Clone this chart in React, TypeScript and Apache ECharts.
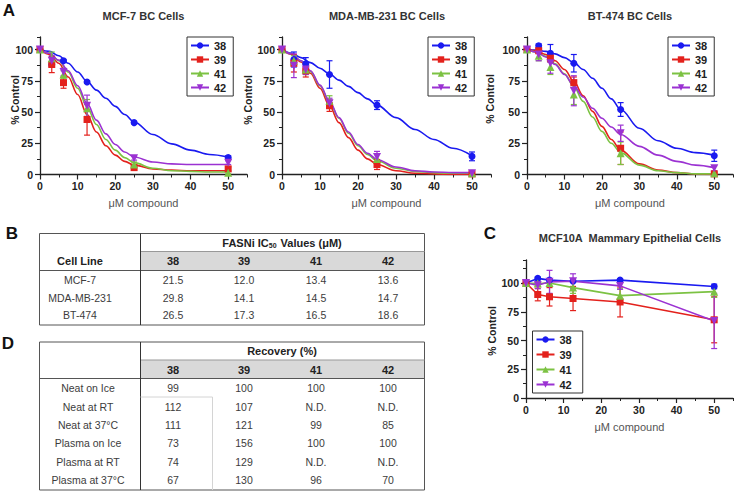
import React, { useEffect, useRef } from 'react';
import * as echarts from 'echarts';

// ---------------- DATA ----------------
const doses = [0, 3.125, 6.25, 12.5, 25, 50];
const compounds = ['38', '39', '41', '42'];
const fitX = [0, 2.5, 5, 7.5, 10, 12.5, 15, 17.5, 20, 22.5, 25, 30, 35, 40, 45, 50];

// MCF-7 fitted curves for 38, 39, 41, 42
const mcf7Fit = [
  [100, 98.5, 95, 89, 82, 74.5, 67.5, 61, 54.5, 48, 42, 32, 24.5, 19.5, 16, 14],
  [100, 96, 89, 78, 64, 48, 34, 23, 15.5, 10.5, 7.5, 4.5, 3.5, 3, 3, 3],
  [100, 97, 91, 82, 69, 54, 40, 28, 19.5, 13.5, 9.5, 5, 3, 2.5, 2, 2],
  [100, 97, 91.5, 83, 71, 57, 43.5, 32.5, 24, 18, 14, 10, 8.5, 8, 8, 8],
];
const mcf7Mean = [
  [100, 88, 91, 74, 41.5, 13.5],
  [100, 88, 73.5, 44, 5.5, 4.5],
  [100, 93, 80, 53, 8, 1.5],
  [100, 91, 82, 55, 13, 9.5],
];
const mcf7Err = [
  [0, 1.5, 1, 1, 1, 1.5],
  [0, 6.5, 4.5, 12.5, 2, 1.5],
  [0, 5, 3, 7, 2, 1],
  [0, 4, 3, 8.5, 1.5, 1.5],
];

// MDA-MB-231
const mdaFit = [
  [100, 97, 93.5, 89.5, 85, 80.5, 75.5, 70.5, 65.5, 60.5, 55.5, 45.5, 36, 28, 21, 15],
  [100, 96, 90, 81, 69, 55, 41.5, 29.5, 19.5, 12.5, 8, 3, 1, 0.5, 0, 0],
  [100, 96.5, 91, 82.5, 71, 58, 45, 33, 23, 16, 11, 5, 2.5, 1.5, 1, 1],
  [100, 96.5, 91, 83, 71.5, 58.5, 45.5, 34, 24, 17, 12, 6, 3, 2, 1.5, 1.5],
];
const mdaMean = [
  [100, 92, 88.5, 80, 55.5, 14.5],
  [100, 89, 83, 55, 8, 0.5],
  [100, 91, 84, 59, 12.5, 1],
  [100, 87, 84, 57, 14, 1],
];
const mdaErr = [
  [0, 6, 5, 11, 3.5, 3.5],
  [0, 7, 5, 4.5, 4, 1],
  [0, 4, 4, 4, 4, 1],
  [0, 9.5, 4, 4, 4.5, 1],
];

// BT-474
const btFit = [
  [100, 99.5, 98.5, 96.5, 93.5, 89.5, 84, 77, 69, 60.5, 52, 37, 27, 21, 17.5, 15.5],
  [100, 99, 96, 91, 84, 74.5, 63, 50.5, 38.5, 28, 19.5, 8.5, 3.5, 1.5, 0.5, 0],
  [100, 98, 94.5, 88.5, 80.5, 70.5, 58.5, 46, 34.5, 25, 17.5, 7.5, 3, 1.5, 0.5, 0.5],
  [100, 98, 94, 88, 80, 71, 62, 53, 45, 38, 32, 22.5, 15.5, 10.5, 7.5, 5.5],
];
const btMean = [
  [100, 103, 97, 89, 52, 15],
  [100, 99, 93, 73.5, 21, 0.5],
  [100, 95, 86, 64, 17, 1],
  [100, 96, 89, 67, 33, 5],
];
const btErr = [
  [0, 1.5, 7, 7, 5.5, 4.5],
  [0, 2, 3, 4.5, 13, 1],
  [0, 4, 6, 8, 9, 1],
  [0, 5, 8, 12, 6.5, 2],
];

// MCF10A
const mcf10aMean = [
  [100, 104, 102.5, 101.5, 102.5, 97],
  [100, 90, 88, 86.5, 83.5, 68],
  [100, 99.5, 100, 96, 89, 92.5],
  [100, 98, 101, 101.5, 97.5, 67],
];
const mcf10aErr = [
  [0, 1, 1, 1, 1, 2],
  [0, 5.5, 8, 10.5, 13, 20],
  [0, 2, 3, 5, 6, 5],
  [0, 3, 10, 6.5, 3, 24],
];

// Tables
const cellLines = ['MCF-7', 'MDA-MB-231', 'BT-474'];
const ic50Rows = [
  ['21.5', '12.0', '13.4', '13.6'],
  ['29.8', '14.1', '14.5', '14.7'],
  ['26.5', '17.3', '16.5', '18.6'],
];
const conditions = ['Neat on Ice', 'Neat at RT', 'Neat at 37°C', 'Plasma on Ice', 'Plasma at RT', 'Plasma at 37°C'];
const recoveryRows = [
  ['99', '100', '100', '100'],
  ['112', '107', 'N.D.', 'N.D.'],
  ['111', '121', '99', '85'],
  ['73', '156', '100', '100'],
  ['74', '129', 'N.D.', 'N.D.'],
  ['67', '130', '96', '70'],
];

// ---------------- STYLE ----------------
const FONT = '"Liberation Sans", Arial, Helvetica, sans-serif';
const COLORS = ['#1a1af0', '#e3211c', '#7cc243', '#9b32d2'];
const SYMBOLS = ['circle', 'rect', 'triangle', 'triangle'];
const ROT = [0, 0, 0, 180];
const SIZES = [7, 7, 8, 8];
const AX = '#222';

const grids = [
  { left: 40, top: 37, width: 207, height: 137.5, ymax: 110 },
  { left: 282, top: 37, width: 209, height: 137.5, ymax: 110 },
  { left: 527, top: 37, width: 206, height: 137.5, ymax: 110 },
  { left: 526, top: 260, width: 207, height: 138, ymax: 120 },
];

function buildXAxes(g: number) {
  const majors = [0, 10, 20, 30, 40, 50];
  return [
    {
      type: 'value', gridIndex: g, position: 'bottom', min: 0, max: 55, interval: 10,
      axisLine: { show: true, onZero: false, lineStyle: { color: AX, width: 1.3 } },
      axisTick: { show: true, inside: false, length: 5, customValues: majors, lineStyle: { color: AX, width: 1.2 } },
      axisLabel: {
        customValues: majors, margin: 6, fontSize: 10.5, fontWeight: 'bold', color: AX, fontFamily: FONT,
        formatter: (v: number) => (v > 50 ? '' : String(v)),
      },
      splitLine: { show: false },
    },
    {
      type: 'value', gridIndex: g, position: 'bottom', min: 0, max: 55, interval: 5,
      axisLine: { show: false, onZero: false },
      axisTick: { show: true, inside: false, length: 3, lineStyle: { color: AX, width: 1 } },
      axisLabel: { show: false },
      splitLine: { show: false },
    },
  ];
}

function buildYAxes(g: number, ymax: number) {
  const majors = [0, 25, 50, 75, 100];
  return [
    {
      type: 'value', gridIndex: g, position: 'left', min: 0, max: ymax, interval: 25,
      axisLine: { show: true, onZero: false, lineStyle: { color: AX, width: 1.3 } },
      axisTick: { show: true, inside: false, length: 5, customValues: majors, lineStyle: { color: AX, width: 1.2 } },
      axisLabel: {
        customValues: majors, margin: 7, fontSize: 10.5, fontWeight: 'bold', color: AX, fontFamily: FONT,
        formatter: (v: number) => (v > 100 ? '' : String(v)),
      },
      splitLine: { show: false },
    },
    {
      type: 'value', gridIndex: g, position: 'left', min: 0, max: ymax, interval: 12.5,
      axisLine: { show: false, onZero: false },
      axisTick: { show: true, inside: false, length: 3, lineStyle: { color: AX, width: 1 } },
      axisLabel: { show: false },
      splitLine: { show: false },
    },
  ];
}

const errRender = (color: string) => (params: any, api: any) => {
  const x = api.value(0);
  const y = api.value(1);
  const e = api.value(2);
  if (!e) return { type: 'group', children: [] };
  const p1 = api.coord([x, y + e]);
  const p2 = api.coord([x, Math.max(0, y - e)]);
  const w = 3;
  const st = { stroke: color, lineWidth: 1.2 };
  return {
    type: 'group',
    children: [
      { type: 'line', shape: { x1: p1[0], y1: p1[1], x2: p2[0], y2: p2[1] }, style: st },
      { type: 'line', shape: { x1: p1[0] - w, y1: p1[1], x2: p1[0] + w, y2: p1[1] }, style: st },
      { type: 'line', shape: { x1: p2[0] - w, y1: p2[1], x2: p2[0] + w, y2: p2[1] }, style: st },
    ],
  };
};

function panelSeries(g: number, tag: string, fit: number[][] | null, mean: number[][], err: number[][]) {
  const out: any[] = [];
  const xi = 2 * g;
  const yi = 2 * g;
  compounds.forEach((name, c) => {
    if (fit) {
      out.push({
        type: 'line', name, xAxisIndex: xi, yAxisIndex: yi,
        data: fitX.map((x, i) => [x, fit[c][i]]),
        smooth: 0.35, smoothMonotone: 'x', showSymbol: false,
        symbol: SYMBOLS[c], symbolRotate: ROT[c], symbolSize: SIZES[c],
        lineStyle: { color: COLORS[c], width: 1.6 }, itemStyle: { color: COLORS[c] },
        z: 2, silent: true,
      });
      out.push({
        type: 'scatter', name: `${tag}-pts-${name}`, xAxisIndex: xi, yAxisIndex: yi,
        data: doses.map((x, i) => [x, mean[c][i]]),
        symbol: SYMBOLS[c], symbolRotate: ROT[c], symbolSize: SIZES[c],
        itemStyle: { color: COLORS[c], opacity: 1 }, z: 4, silent: true,
      });
    } else {
      out.push({
        type: 'line', name, xAxisIndex: xi, yAxisIndex: yi,
        data: doses.map((x, i) => [x, mean[c][i]]),
        showSymbol: true, symbol: SYMBOLS[c], symbolRotate: ROT[c], symbolSize: SIZES[c],
        lineStyle: { color: COLORS[c], width: 1.6 }, itemStyle: { color: COLORS[c] },
        z: 4, silent: true,
      });
    }
    out.push({
      type: 'custom', name: `${tag}-err-${name}`, xAxisIndex: xi, yAxisIndex: yi,
      data: doses.map((x, i) => [x, mean[c][i], err[c][i]]),
      encode: { x: 0, y: 1 },
      renderItem: errRender(COLORS[c]), z: 3, silent: true,
    });
  });
  return out;
}

function legendAt(left: number, top: number, gap: number, padRight: number) {
  return {
    orient: 'vertical', left, top, data: compounds,
    itemWidth: 18, itemHeight: 8, itemGap: gap,
    padding: [3, padRight, 3, 3],
    borderColor: '#333', borderWidth: 1, backgroundColor: '#fff',
    selectedMode: false,
    textStyle: { fontSize: 11, fontWeight: 'bold', color: '#222', fontFamily: FONT },
  };
}

function txt(text: string, x: number, y: number, o: any = {}) {
  return {
    type: 'text', x, y, rotation: o.rotation || 0, z: 100,
    style: {
      text, fill: o.fill || '#222', fontSize: o.fontSize || 11, fontWeight: o.fontWeight || 'normal',
      fontFamily: FONT, align: o.align || 'center', verticalAlign: 'middle', rich: o.rich,
    },
  };
}
function ln(x1: number, y1: number, x2: number, y2: number, stroke: string, lw = 1) {
  return { type: 'line', z: 90, shape: { x1, y1, x2, y2 }, style: { stroke, lineWidth: lw } };
}
function box(x: number, y: number, w: number, h: number, fill: string, stroke = 'none', lw = 1) {
  return { type: 'rect', z: 80, shape: { x, y, width: w, height: h }, style: { fill, stroke, lineWidth: lw } };
}

const colX = [173, 244, 316, 388];

function tableGraphics() {
  const els: any[] = [];
  // Table B
  els.push(box(140.5, 251.5, 284, 19, '#d9d9d9'));
  els.push(box(39.5, 233.5, 385, 91.5, 'none', '#555', 1));
  els.push(ln(140.5, 251.5, 424.5, 251.5, '#999'));
  els.push(ln(39.5, 270.5, 424.5, 270.5, '#555'));
  els.push(ln(140.5, 233.5, 140.5, 325, '#333'));
  els.push(txt('FASNi IC{sub|50} Values (μM)', 282, 242.5, {
    fontWeight: 'bold', fontSize: 11,
    rich: { sub: { fontSize: 7, fontWeight: 'bold', fontFamily: FONT, fill: '#222', padding: [6, 1, 0, 0] } },
  }));
  els.push(txt('Cell Line', 80, 261, { fontWeight: 'bold', fontSize: 11 }));
  compounds.forEach((c, j) => els.push(txt(c, colX[j], 261, { fontWeight: 'bold', fontSize: 11 })));
  const rowB = [280, 297.5, 315];
  cellLines.forEach((name, i) => {
    els.push(txt(name, 80, rowB[i], { fontSize: 10.5, fill: '#3c3c3c' }));
    ic50Rows[i].forEach((v, j) => els.push(txt(v, colX[j], rowB[i], { fontSize: 10.5, fill: '#3c3c3c' })));
  });

  // Table D
  els.push(box(140.5, 360, 284, 18.5, '#d9d9d9'));
  els.push(box(39.5, 342, 385, 148, 'none', '#555', 1));
  els.push(ln(140.5, 360, 424.5, 360, '#999'));
  els.push(ln(39.5, 378.5, 424.5, 378.5, '#555'));
  els.push(ln(140.5, 342, 140.5, 490, '#333'));
  els.push(ln(140.5, 397, 212.5, 397, '#d4d4d4'));
  els.push(ln(212.5, 397, 212.5, 490, '#d4d4d4'));
  els.push(txt('Recovery (%)', 282, 351, { fontWeight: 'bold', fontSize: 11 }));
  compounds.forEach((c, j) => els.push(txt(c, colX[j], 369.5, { fontWeight: 'bold', fontSize: 11 })));
  const rowD = [388, 406.5, 425, 443, 461.5, 480];
  conditions.forEach((name, i) => {
    els.push(txt(name, 88, rowD[i], { fontSize: 10.5, fill: '#3c3c3c' }));
    recoveryRows[i].forEach((v, j) => els.push(txt(v, colX[j], rowD[i], { fontSize: 10.5, fill: '#3c3c3c' })));
  });
  return els;
}

function labelGraphics() {
  const els: any[] = [];
  els.push(txt('A', 9, 10, { fontWeight: 'bold', fontSize: 17, fill: '#111' }));
  els.push(txt('B', 12, 233, { fontWeight: 'bold', fontSize: 17, fill: '#111' }));
  els.push(txt('C', 490, 233, { fontWeight: 'bold', fontSize: 17, fill: '#111' }));
  els.push(txt('D', 8, 343, { fontWeight: 'bold', fontSize: 17, fill: '#111' }));
  els.push(txt('MCF-7 BC Cells', 143.5, 16, { fontWeight: 'bold', fontSize: 11, fill: '#333' }));
  els.push(txt('MDA-MB-231 BC Cells', 387, 15.5, { fontWeight: 'bold', fontSize: 11, fill: '#333' }));
  els.push(txt('BT-474 BC Cells', 630, 16, { fontWeight: 'bold', fontSize: 11, fill: '#333' }));
  els.push(txt('MCF10A  Mammary Epithelial Cells', 630, 238, { fontWeight: 'bold', fontSize: 11, fill: '#333' }));
  const yName = [[15, 100], [248, 100], [490, 99], [492, 331]];
  yName.forEach(([x, y]) => els.push(txt('% Control', x, y, { fontWeight: 'bold', fontSize: 10.5, rotation: Math.PI / 2 })));
  const xName = [[143.5, 203], [386.5, 203], [630, 203], [629.5, 427]];
  xName.forEach(([x, y]) => els.push(txt('μM compound', x, y, { fontSize: 11, fill: '#555' })));
  return els;
}

export default function App() {
  const ref = useRef<HTMLDivElement>(null);
  useEffect(() => {
    if (!ref.current) return;
    const chart = echarts.init(ref.current, undefined, { renderer: 'svg' });
    const xAxis: any[] = [];
    const yAxis: any[] = [];
    grids.forEach((g, i) => {
      xAxis.push(...buildXAxes(i));
      yAxis.push(...buildYAxes(i, g.ymax));
    });
    const series = [
      ...panelSeries(0, 'mcf7', mcf7Fit, mcf7Mean, mcf7Err),
      ...panelSeries(1, 'mda', mdaFit, mdaMean, mdaErr),
      ...panelSeries(2, 'bt', btFit, btMean, btErr),
      ...panelSeries(3, 'mcf10a', null, mcf10aMean, mcf10aErr),
    ];
    chart.setOption({
      animation: false,
      backgroundColor: '#fff',
      textStyle: { fontFamily: FONT },
      grid: grids.map((g) => ({ left: g.left, top: g.top, width: g.width, height: g.height, containLabel: false })),
      xAxis,
      yAxis,
      legend: [
        legendAt(187, 37, 3, 7),
        legendAt(428, 37, 3, 7),
        legendAt(668, 37, 3, 7),
        legendAt(532.5, 331, 4, 11),
      ],
      series,
      graphic: { elements: [...tableGraphics(), ...labelGraphics()] },
    });
    return () => chart.dispose();
  }, []);
  return (
    <div
      ref={ref}
      style={{ position: 'fixed', left: 0, top: 0, width: 736, height: 492, background: '#fff' }}
    />
  );
}
